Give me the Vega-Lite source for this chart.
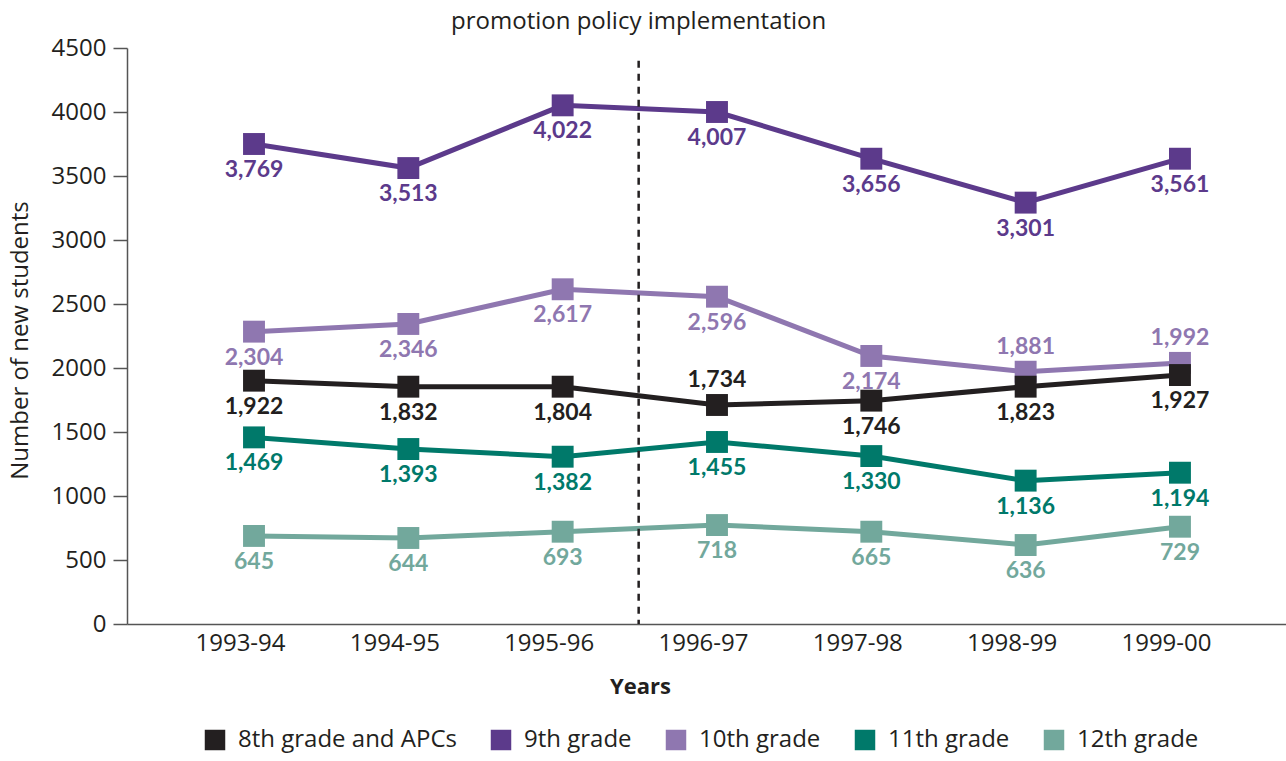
{
  "$schema": "https://vega.github.io/schema/vega-lite/v6.json",
  "width": 1159,
  "height": 576,
  "autosize": {"type": "none"},
  "padding": {"left": 127, "top": 48, "right": 0, "bottom": 137},
  "config": {
    "font": "Open Sans",
    "view": {"stroke": null},
    "axis": {"grid": false, "labelColor": "#231f20", "titleColor": "#231f20"}
  },
  "datasets": {
    "students": [
      {"year": "1993-94", "grade": "12th grade", "drawn": 688, "label": 645},
      {"year": "1994-95", "grade": "12th grade", "drawn": 672, "label": 644},
      {"year": "1995-96", "grade": "12th grade", "drawn": 721, "label": 693},
      {"year": "1996-97", "grade": "12th grade", "drawn": 773, "label": 718},
      {"year": "1997-98", "grade": "12th grade", "drawn": 721, "label": 665},
      {"year": "1998-99", "grade": "12th grade", "drawn": 617, "label": 636},
      {"year": "1999-00", "grade": "12th grade", "drawn": 760, "label": 729},
      {"year": "1993-94", "grade": "11th grade", "drawn": 1458, "label": 1469},
      {"year": "1994-95", "grade": "11th grade", "drawn": 1367, "label": 1393},
      {"year": "1995-96", "grade": "11th grade", "drawn": 1307, "label": 1382},
      {"year": "1996-97", "grade": "11th grade", "drawn": 1422, "label": 1455},
      {"year": "1997-98", "grade": "11th grade", "drawn": 1312, "label": 1330},
      {"year": "1998-99", "grade": "11th grade", "drawn": 1120, "label": 1136},
      {"year": "1999-00", "grade": "11th grade", "drawn": 1182, "label": 1194},
      {"year": "1993-94", "grade": "10th grade", "drawn": 2284, "label": 2304},
      {"year": "1994-95", "grade": "10th grade", "drawn": 2344, "label": 2346},
      {"year": "1995-96", "grade": "10th grade", "drawn": 2615, "label": 2617},
      {"year": "1996-97", "grade": "10th grade", "drawn": 2557, "label": 2596},
      {"year": "1997-98", "grade": "10th grade", "drawn": 2094, "label": 2174},
      {"year": "1998-99", "grade": "10th grade", "drawn": 1971, "label": 1881},
      {"year": "1999-00", "grade": "10th grade", "drawn": 2040, "label": 1992},
      {"year": "1993-94", "grade": "9th grade", "drawn": 3750, "label": 3769},
      {"year": "1994-95", "grade": "9th grade", "drawn": 3562, "label": 3513},
      {"year": "1995-96", "grade": "9th grade", "drawn": 4052, "label": 4022},
      {"year": "1996-97", "grade": "9th grade", "drawn": 4000, "label": 4007},
      {"year": "1997-98", "grade": "9th grade", "drawn": 3635, "label": 3656},
      {"year": "1998-99", "grade": "9th grade", "drawn": 3292, "label": 3301},
      {"year": "1999-00", "grade": "9th grade", "drawn": 3635, "label": 3561},
      {"year": "1993-94", "grade": "8th grade and APCs", "drawn": 1901, "label": 1922},
      {"year": "1994-95", "grade": "8th grade and APCs", "drawn": 1854, "label": 1832},
      {"year": "1995-96", "grade": "8th grade and APCs", "drawn": 1854, "label": 1804},
      {"year": "1996-97", "grade": "8th grade and APCs", "drawn": 1711, "label": 1734},
      {"year": "1997-98", "grade": "8th grade and APCs", "drawn": 1745, "label": 1746},
      {"year": "1998-99", "grade": "8th grade and APCs", "drawn": 1854, "label": 1823},
      {"year": "1999-00", "grade": "8th grade and APCs", "drawn": 1945, "label": 1927}
    ],
    "policy": [
      {"year": "1995-96", "top": 4400, "bottom": 0, "texty": 4700, "note": "promotion policy implementation"}
    ]
  },
  "encoding": {
    "x": {
      "field": "year",
      "type": "ordinal",
      "sort": ["1993-94", "1994-95", "1995-96", "1996-97", "1997-98", "1998-99", "1999-00"],
      "scale": {"type": "point", "padding": 0.755, "align": 0.545},
      "axis": {
        "title": "Years",
        "labelAngle": 0,
        "labelFontSize": 24,
        "labelPadding": 7,
        "labelOffset": -14,
        "ticks": false,
        "domainColor": "#555555",
        "domainWidth": 1.5,
        "titleFontSize": 22,
        "titleFontWeight": "bold",
        "titleX": 513,
        "titleY": 62,
        "titleBaseline": "middle"
      }
    }
  },
  "layer": [
    {
      "data": {"name": "students"},
      "encoding": {
        "y": {
          "field": "drawn",
          "type": "quantitative",
          "scale": {"domain": [0, 4500], "nice": false},
          "axis": {
            "title": "Number of new students",
            "values": [0, 500, 1000, 1500, 2000, 2500, 3000, 3500, 4000, 4500],
            "format": "d",
            "labelFontSize": 24,
            "labelPadding": 7,
            "tickSize": 14,
            "tickColor": "#555555",
            "tickWidth": 1.5,
            "domainColor": "#555555",
            "domainWidth": 1.5,
            "titleFontSize": 24,
            "titleFontWeight": "normal",
            "titleX": -107,
            "titleY": 292,
            "titleAngle": -90,
            "titleAlign": "center",
            "titleBaseline": "middle"
          }
        },
        "color": {
          "field": "grade",
          "type": "nominal",
          "scale": {
            "domain": ["8th grade and APCs", "9th grade", "10th grade", "11th grade", "12th grade"],
            "range": ["#231f20", "#5c3a8b", "#8f77b0", "#00796a", "#72a89c"]
          },
          "legend": {
            "title": null,
            "orient": "none",
            "direction": "horizontal",
            "legendX": 76,
            "legendY": 680,
            "columnPadding": 32,
            "labelFontSize": 24,
            "labelLimit": 0,
            "labelColor": "#231f20",
            "labelOffset": 11,
            "symbolType": "square",
            "symbolSize": 420,
            "symbolStrokeWidth": 0,
            "symbolOpacity": 1,
            "encode": {
              "symbols": {
                "update": {
                  "fill": {"scale": "color", "field": "value"},
                  "stroke": {"value": "transparent"}
                }
              }
            }
          }
        }
      },
      "layer": [
        {
          "mark": {"type": "line", "strokeWidth": 5},
          "encoding": {"detail": {"field": "grade"}}
        },
        {
          "mark": {"type": "point", "shape": "square", "size": 480, "filled": true, "opacity": 1}
        },
        {
          "transform": [
            {"filter": "!((datum.grade == '8th grade and APCs' && datum.year == '1996-97') || (datum.grade == '10th grade' && (datum.year == '1998-99' || datum.year == '1999-00')))"}
          ],
          "mark": {"type": "text", "font": "Lato", "fontSize": 23, "fontWeight": "bold", "baseline": "middle", "dy": 26},
          "encoding": {"text": {"field": "label", "type": "quantitative", "format": ","}}
        },
        {
          "transform": [
            {"filter": "(datum.grade == '8th grade and APCs' && datum.year == '1996-97') || (datum.grade == '10th grade' && (datum.year == '1998-99' || datum.year == '1999-00'))"}
          ],
          "mark": {"type": "text", "font": "Lato", "fontSize": 23, "fontWeight": "bold", "baseline": "middle", "dy": -25},
          "encoding": {"text": {"field": "label", "type": "quantitative", "format": ","}}
        }
      ]
    },
    {
      "data": {"name": "policy"},
      "mark": {"type": "rule", "strokeDash": [7, 6], "strokeWidth": 2.5, "color": "#231f20", "xOffset": 76},
      "encoding": {
        "y": {"field": "top", "type": "quantitative"},
        "y2": {"field": "bottom"}
      }
    },
    {
      "data": {"name": "policy"},
      "mark": {"type": "text", "fontSize": 24, "color": "#231f20", "xOffset": 76, "baseline": "middle"},
      "encoding": {
        "y": {"field": "texty", "type": "quantitative"},
        "text": {"field": "note"}
      }
    }
  ]
}
